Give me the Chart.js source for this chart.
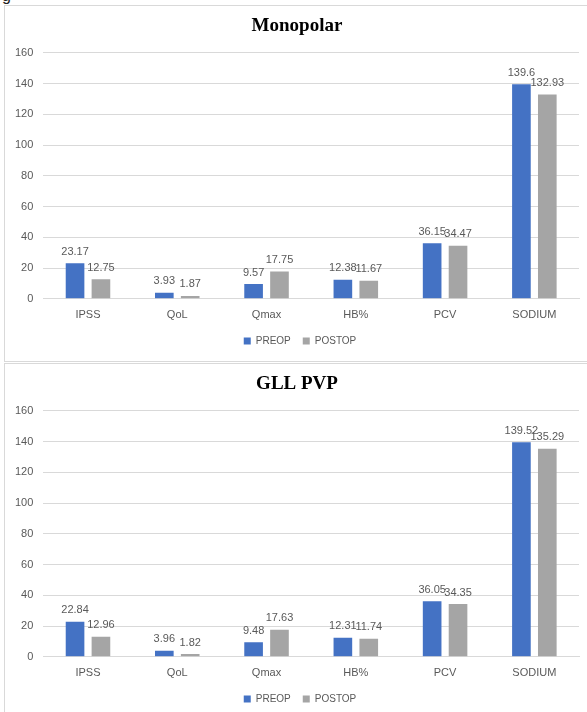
<!DOCTYPE html>
<html>
<head>
<meta charset="utf-8">
<script src="https://cdn.jsdelivr.net/npm/chart.js@4/dist/chart.umd.min.js"></script>
<style>
  body { margin: 0; background: #fff; width: 587px; height: 712px; overflow: hidden; position: relative; }
  .box { position: absolute; left: 4px; width: 600px; border: 1px solid #d9d9d9; background: #fff; }
  #box1 { top: 5px; height: 355px; }
  #box2 { top: 363px; height: 400px; }
  canvas { position: absolute; left: 0; top: 0; }
  .cap { position: absolute; left: 2px; top: -13px; font: 16px "Liberation Sans", sans-serif; color: #222; }
</style>
</head>
<body>
<div class="cap">g</div>
<div class="box" id="box1"><canvas id="monoChart" width="582" height="354"></canvas></div>
<div class="box" id="box2"><canvas id="gllChart" width="582" height="354"></canvas></div>
<script>
// Data
const categories = ['IPSS', 'QoL', 'Qmax', 'HB%', 'PCV', 'SODIUM'];
const monoPreop = [23.17, 3.93, 9.57, 12.38, 36.15, 139.6];
const monoPostop = [12.75, 1.87, 17.75, 11.67, 34.47, 132.93];
const gllPreop = [22.84, 3.96, 9.48, 12.31, 36.05, 139.52];
const gllPostop = [12.96, 1.82, 17.63, 11.74, 34.35, 135.29];
const yTicks = [0, 20, 40, 60, 80, 100, 120, 140, 160];

const textFont = "'Liberation Sans', Arial, sans-serif";
const textColor = '#595959';

// value labels above each bar
const barLabels = {
  id: 'barLabels',
  afterDatasetsDraw(chart) {
    const ctx = chart.ctx;
    ctx.save();
    ctx.font = '11px ' + textFont;
    ctx.fillStyle = textColor;
    ctx.textAlign = 'center';
    ctx.textBaseline = 'bottom';
    chart.data.datasets.forEach((ds, i) => {
      chart.getDatasetMeta(i).data.forEach((bar, j) => {
        ctx.fillText(String(ds.data[j]), bar.x, bar.y - 6);
      });
    });
    ctx.restore();
  }
};

// in the original the title and legend sit a bit right of the plot centre
const nudgeBoxes = {
  id: 'nudgeBoxes',
  afterLayout(chart) {
    if (chart.titleBlock) { chart.titleBlock.left += 5; chart.titleBlock.right += 5; }
    if (chart.legend) { chart.legend.left += 8; chart.legend.right += 8; }
  }
};

function makeChart(id, title, pre, post) {
  const ctx = document.getElementById(id).getContext('2d');
  return new Chart(ctx, {
    type: 'bar',
    data: {
      labels: categories,
      datasets: [
        { label: 'PREOP', data: pre, backgroundColor: '#4472C4' },
        { label: 'POSTOP', data: post, backgroundColor: '#A5A5A5' }
      ]
    },
    options: {
      responsive: false,
      animation: false,
      categoryPercentage: 0.58,
      barPercentage: 0.72,
      layout: { padding: { left: 0, right: 8, top: 0, bottom: 4 } },
      plugins: {
        title: {
          display: true,
          text: title,
          color: '#000',
          font: { family: "'Liberation Serif', 'Times New Roman', serif", size: 19, weight: 'bold' },
          padding: { top: 9, bottom: 15 }
        },
        legend: {
          position: 'bottom',
          labels: {
            color: textColor,
            font: { family: textFont, size: 10 },
            boxWidth: 7,
            boxHeight: 7,
            padding: 12
          }
        },
        tooltip: { enabled: false }
      },
      scales: {
        x: {
          grid: { display: false },
          border: { color: '#d9d9d9' },
          ticks: { color: textColor, font: { family: textFont, size: 11 }, padding: 2 }
        },
        y: {
          min: 0,
          max: 160,
          afterBuildTicks: (axis) => { axis.ticks = yTicks.map(v => ({ value: v })); },
          grid: { color: '#d9d9d9', drawTicks: false },
          border: { display: false },
          ticks: { color: textColor, font: { family: textFont, size: 11 }, padding: 10 }
        }
      }
    },
    plugins: [barLabels, nudgeBoxes]
  });
}

makeChart('monoChart', 'Monopolar', monoPreop, monoPostop);
makeChart('gllChart', 'GLL PVP', gllPreop, gllPostop);
</script>
</body>
</html>
